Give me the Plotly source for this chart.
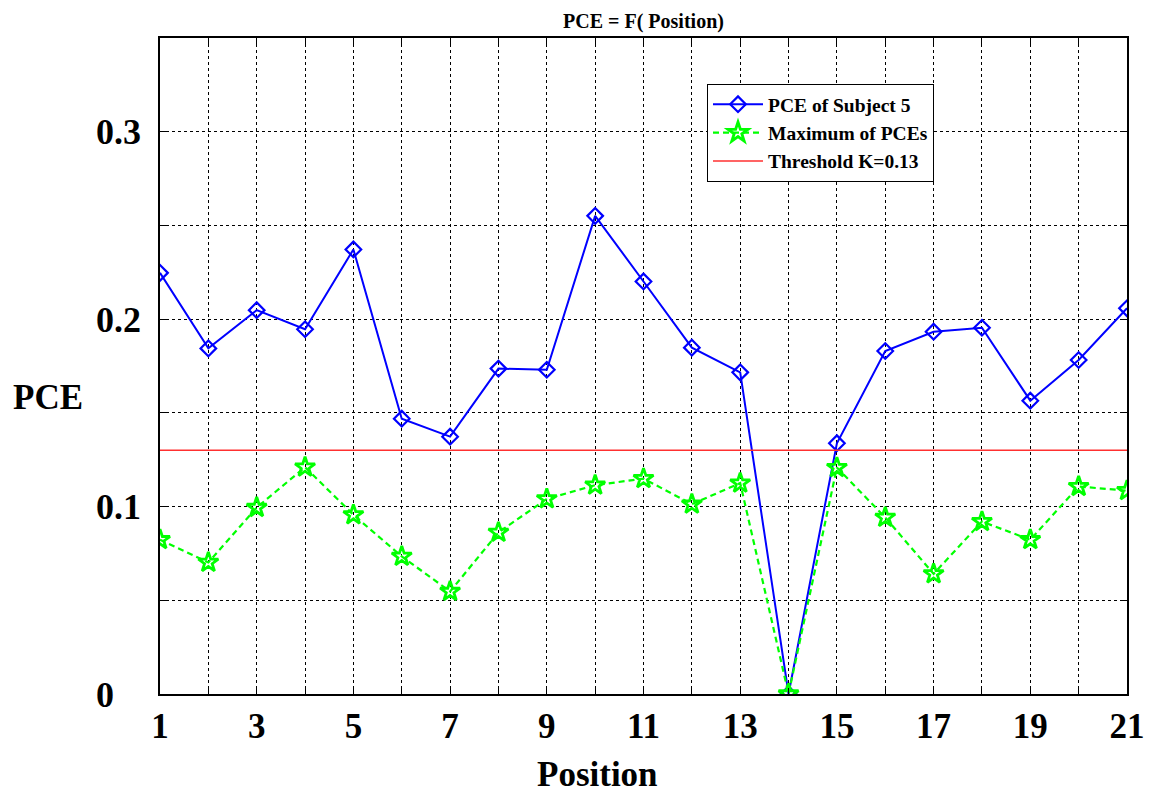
import plotly.graph_objects as go

positions = list(range(1, 22))
pce_subject5 = [0.2247, 0.1844, 0.2048, 0.1946, 0.2372, 0.1469, 0.1373, 0.1736, 0.1730, 0.2551,
                0.2201, 0.1848, 0.1716, 0.0, 0.1338, 0.1830, 0.1933, 0.1954, 0.1565, 0.1782, 0.2058]
max_pces = [0.0823, 0.0702, 0.0995, 0.1210, 0.0956, 0.0734, 0.0547, 0.0862, 0.1041, 0.1114,
            0.1149, 0.1013, 0.1125, 0.0, 0.1208, 0.0942, 0.0641, 0.0920, 0.0823, 0.1107, 0.1085]
threshold = 0.13
x_tick_labels = [str(p) if p % 2 == 1 else "" for p in positions]
y_tick_vals = [0, 0.05, 0.1, 0.15, 0.2, 0.25, 0.3, 0.35]
y_tick_labels = ["0\u00a0\u00a0\u00a0", "", "0.1", "", "0.2", "", "0.3", ""]

FONT = "Liberation Serif, Times New Roman, serif"

# page body has an 8px margin, so the figure is offset by (8, 8)
W, H = 1157, 786
L, R, T, B = 152, 38, 30, 100
PW = W - L - R
PH = H - T - B

fig = go.Figure()
fig.add_trace(go.Scatter(
    x=positions, y=pce_subject5, mode="lines+markers", name="PCE of Subject 5",
    line=dict(color="#0000ff", width=2),
    marker=dict(symbol="diamond-open", size=12, color="#0000ff", line=dict(width=2.2, color="#0000ff")),
))
fig.add_trace(go.Scatter(
    x=positions, y=max_pces, mode="lines+markers", name="Maximum of PCEs",
    line=dict(color="#00ff00", width=2.2, dash="6px,4px"),
    marker=dict(symbol="star-open", size=15, color="#00ff00", line=dict(width=2.8, color="#00ff00")),
))
fig.add_trace(go.Scatter(
    x=positions, y=[threshold] * len(positions), mode="lines", name="Threshold K=0.13",
    line=dict(color="#ff3030", width=1.5),
))

fig.update_layout(
    width=W, height=H,
    margin=dict(l=L, r=R, t=T, b=B),
    paper_bgcolor="white", plot_bgcolor="white",
    font=dict(family=FONT, color="black"),
    showlegend=True,
    legend=dict(
        x=(699 - L) / PW, y=1 - (76 - T) / PH, xanchor="left", yanchor="top",
        bgcolor="white", bordercolor="black", borderwidth=1,
        font=dict(family=FONT, size=19.5, color="black", weight="bold"),
        itemwidth=50, tracegroupgap=0,
    ),
    title=dict(text="<b>PCE = F( Position)</b>", x=0.5, xref="paper", y=1 - 13 / H, yanchor="middle",
               font=dict(family=FONT, size=20, color="black")),
    hovermode=False,
)

fig.update_xaxes(
    range=[1, 21], tickmode="array", tickvals=positions, ticktext=x_tick_labels,
    showgrid=True, gridcolor="black", gridwidth=1, griddash="3px,3px",
    showline=True, linecolor="black", linewidth=1.5, mirror="ticks",
    ticks="inside", ticklen=6, tickcolor="black", tickwidth=1,
    tickfont=dict(family=FONT, size=35, color="black", weight="bold"),
    zeroline=False,
)
fig.update_yaxes(
    range=[0, 0.35], tickmode="array", tickvals=y_tick_vals, ticktext=y_tick_labels,
    showgrid=True, gridcolor="black", gridwidth=1, griddash="3px,3px",
    showline=True, linecolor="black", linewidth=1.5, mirror="ticks",
    ticks="inside", ticklen=6, tickcolor="black", tickwidth=1,
    tickfont=dict(family=FONT, size=36, color="black", weight="bold"),
    ticklabelstandoff=10,
    zeroline=False,
)

fig.add_annotation(text="<b>Position</b>", xref="paper", yref="paper",
                   x=(589 - L) / PW, y=-(766 - (H - B)) / PH, xanchor="center", yanchor="middle",
                   showarrow=False, font=dict(family=FONT, size=35, color="black"))
fig.add_annotation(text="<b>PCE</b>", xref="paper", yref="paper",
                   x=-(L - 39.5) / PW, y=((H - B) - 389.5) / PH, xanchor="center", yanchor="middle",
                   showarrow=False, font=dict(family=FONT, size=35, color="black"))

fig.write_html("out.html")
